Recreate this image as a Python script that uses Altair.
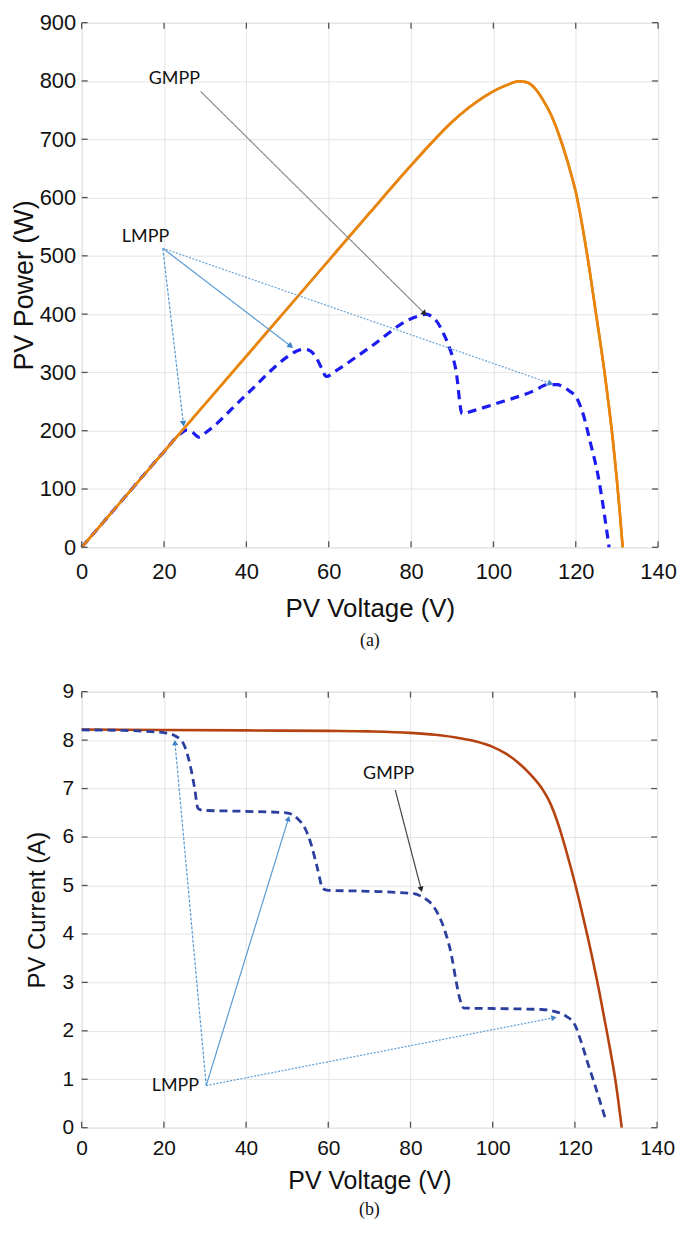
import math
import altair as alt
import pandas as pd

# ---------------- data: panel (a) P-V ----------------
a_full_v = [0, 20, 40, 60, 70, 80, 85, 90, 94, 98, 101, 104, 106, 108, 110, 112, 114, 116, 118, 119, 120, 121, 122, 123, 124, 125, 126, 127, 128, 129, 130, 130.7, 131.4]
a_full_p = [0, 164, 328, 492, 574, 655, 694, 730, 754, 774, 786, 795, 799.5, 798, 788, 768, 742, 706, 662, 637, 610, 575, 535, 492, 445, 397, 350, 300, 245, 185, 115, 60, 0]

a_shade_v = [0, 10, 20, 24, 25.5, 26.8, 28.5, 30, 40, 50, 52, 54, 55.5, 57, 58.3, 59.4, 62, 70, 80, 82, 83.7, 85, 86.2, 87.8, 89.3, 90.9, 92.4, 95, 100, 110, 113.1, 115.5, 117, 118.3, 120.4, 121.9, 123.5, 125.5, 127.6, 128.1]
a_shade_p = [0, 82, 164, 195, 201, 198, 189, 196, 262, 327, 336, 340, 337, 325, 307, 293, 304, 343, 392, 397, 400, 396, 388, 368, 343, 304, 229, 234, 245, 269, 279, 279, 275, 269, 254, 226, 181, 120, 25, 0]

# ---------------- data: panel (b) I-V ----------------
b_full_v = [0, 20, 40, 60, 70, 80, 86, 92, 96, 100, 103, 106, 109, 112, 114, 116, 118, 120, 122, 124, 126, 128, 130, 131.4]
b_full_i = [8.22, 8.21, 8.2, 8.19, 8.18, 8.15, 8.11, 8.04, 7.97, 7.86, 7.73, 7.55, 7.31, 7.0, 6.7, 6.25, 5.68, 5.05, 4.35, 3.6, 2.78, 1.88, 0.9, 0]

b_shade_v = [0, 10, 20.3, 22.9, 24.9, 26.4, 27.5, 28.3, 29.5, 40, 49.8, 52.4, 54.4, 55.9, 57.4, 58.7, 60, 70, 80.8, 82.9, 85.4, 86.9, 88.5, 90, 91, 92, 93, 100, 111.8, 115.9, 117.9, 120, 121.5, 123, 125.1, 126.6, 127.6]
b_shade_i = [8.21, 8.2, 8.15, 8.08, 7.9, 7.48, 7.0, 6.59, 6.55, 6.53, 6.5, 6.39, 6.17, 5.83, 5.34, 4.93, 4.9, 4.88, 4.83, 4.76, 4.59, 4.38, 4.03, 3.55, 3.07, 2.66, 2.47, 2.46, 2.44, 2.38, 2.3, 2.12, 1.78, 1.37, 0.82, 0.41, 0.14]

# ---------------- ticks ----------------
x_ticks = [0, 20, 40, 60, 80, 100, 120, 140]
a_y_ticks = [0, 100, 200, 300, 400, 500, 600, 700, 800, 900]
b_y_ticks = [0, 1, 2, 3, 4, 5, 6, 7, 8, 9]

# ---------------- annotations ----------------
a_label_text = ["GMPP", "LMPP"]
a_label_v = [22.5, 15.5]
a_label_p = [804, 533]
a_arrow_kind = ["G", "L1", "L2", "L3"]
a_arrow_v0 = [28.9, 19.7, 19.7, 19.7]
a_arrow_p0 = [782, 513, 513, 513]
a_arrow_v1 = [83.3, 24.7, 50.8, 113.9]
a_arrow_p1 = [401, 212, 345, 281]

b_label_text = ["GMPP", "LMPP"]
b_label_v = [74.7, 22.8]
b_label_i = [7.31, 0.85]
b_arrow_kind = ["G", "L1", "L2", "L3"]
b_arrow_v0 = [76.3, 30.3, 30.3, 30.3]
b_arrow_i0 = [6.97, 0.87, 0.87, 0.87]
b_arrow_v1 = [82.6, 22.7, 50.3, 114.9]
b_arrow_i1 = [4.92, 7.95, 6.38, 2.27]

# ---------------- style ----------------
W_A, H_A = 579, 527
W_B, H_B = 578, 438
SANS = "Liberation Sans, Arial"
GRID = "#e4e4e4"
TICKC = "#555555"
TXT = "#111111"
TICK_LEN = 6


def head_angles(v0, y0, v1, y1, sx, sy):
    out = []
    for a, b, c, d in zip(v0, y0, v1, y1):
        dx = (c - a) * sx
        dy = -(d - b) * sy
        out.append(math.degrees(math.atan2(dx, -dy)) % 360)
    return out


def build_panel(full_v, full_y, shade_v, shade_y, yname, ydom, yticks, W, H,
                lab_t, lab_v, lab_y, ak, av0, ay0, av1, ay1,
                full_color, shade_color, shade_width, shade_dash,
                arrow_colors, head_colors, arrow_dashes, head_size,
                xlab_size, xtitle_size, ylab_size, ytitle, ytitle_size,
                ylab_pad, ytitle_pad, xlab_pad, xtitle_pad, caption, cap_offset,
                text_size, full_on_top):
    xs = alt.Scale(domain=[0, 140], nice=False, zero=False)
    ys = alt.Scale(domain=ydom, nice=False, zero=False)

    df_full = pd.DataFrame({"v": full_v, yname: full_y})
    df_shade = pd.DataFrame({"v": shade_v, yname: shade_y})
    df_lab = pd.DataFrame({"t": lab_t, "v": lab_v, yname: lab_y})
    df_xt = pd.DataFrame({"v": x_ticks})
    df_yt = pd.DataFrame({yname: yticks})
    sx = W / 140.0
    sy = H / float(ydom[1] - ydom[0])
    df_arr = pd.DataFrame({"k": ak, "v0": av0, "y0": ay0, "v1": av1, "y1": ay1,
                           "ang": head_angles(av0, ay0, av1, ay1, sx, sy)})

    main_x = alt.Axis(values=x_ticks, orient="bottom", title="PV Voltage (V)", grid=True,
                      gridColor=GRID, gridWidth=1, ticks=False, domain=False,
                      labelFont=SANS, labelFontSize=xlab_size, labelColor=TXT,
                      labelPadding=xlab_pad, labelFlush=False, labelOverlap=False,
                      titleFont=SANS, titleFontSize=xtitle_size, titleFontWeight="normal",
                      titleColor=TXT, titlePadding=xtitle_pad, format="d")
    main_y = alt.Axis(values=yticks, orient="left", title=ytitle, grid=True, gridColor=GRID,
                      gridWidth=1, ticks=False, domain=False, labelFont=SANS,
                      labelFontSize=ylab_size, labelColor=TXT, labelPadding=ylab_pad,
                      labelFlush=False, labelOverlap=False, titleFont=SANS,
                      titleFontSize=ytitle_size, titleFontWeight="normal", titleColor=TXT,
                      titlePadding=ytitle_pad, format="d")

    line_style = dict(color=full_color, strokeWidth=2.6, interpolate="monotone")
    full = alt.Chart(df_full).mark_line(**line_style).encode(
        x=alt.X("v:Q", scale=xs, axis=main_x),
        y=alt.Y(f"{yname}:Q", scale=ys, axis=main_y),
    )
    full_over = alt.Chart(df_full).mark_line(**line_style).encode(
        x=alt.X("v:Q", scale=xs, axis=None),
        y=alt.Y(f"{yname}:Q", scale=ys, axis=None),
    )
    shade = alt.Chart(df_shade).mark_line(color=shade_color, strokeWidth=shade_width,
                                          strokeDash=shade_dash,
                                          interpolate="monotone").encode(
        x=alt.X("v:Q", scale=xs, axis=None),
        y=alt.Y(f"{yname}:Q", scale=ys, axis=None),
    )
    arrows = alt.Chart(df_arr).mark_rule(strokeWidth=1.2).encode(
        x=alt.X("v0:Q", scale=xs, axis=None),
        y=alt.Y("y0:Q", scale=ys, axis=None),
        x2="v1:Q",
        y2="y1:Q",
        color=alt.Color("k:N", scale=alt.Scale(domain=ak, range=arrow_colors), legend=None),
        strokeDash=alt.StrokeDash("k:N", scale=alt.Scale(domain=ak, range=arrow_dashes),
                                  legend=None),
    )
    heads = alt.Chart(df_arr).mark_point(shape="triangle-up", filled=True, size=head_size,
                                         opacity=1).encode(
        x=alt.X("v1:Q", scale=xs, axis=None),
        y=alt.Y("y1:Q", scale=ys, axis=None),
        angle=alt.Angle("ang:Q", scale=None),
        color=alt.Color("k:N", scale=alt.Scale(domain=ak, range=head_colors), legend=None),
    )
    texts = alt.Chart(df_lab).mark_text(font="Lato", fontSize=text_size, color=TXT,
                                        baseline="middle", align="center").encode(
        x=alt.X("v:Q", scale=xs, axis=None),
        y=alt.Y(f"{yname}:Q", scale=ys, axis=None),
        text="t:N",
    )
    # inner (MATLAB-style) tick marks on all four sides of the frame
    tick_style = dict(color=TICKC, strokeWidth=1.3)
    t_top = alt.Chart(df_xt).mark_rule(**tick_style).encode(
        x=alt.X("v:Q", scale=xs, axis=None), y=alt.value(0), y2=alt.value(TICK_LEN))
    t_bot = alt.Chart(df_xt).mark_rule(**tick_style).encode(
        x=alt.X("v:Q", scale=xs, axis=None), y=alt.value(H - TICK_LEN), y2=alt.value(H))
    t_left = alt.Chart(df_yt).mark_rule(**tick_style).encode(
        y=alt.Y(f"{yname}:Q", scale=ys, axis=None), x=alt.value(0), x2=alt.value(TICK_LEN))
    t_right = alt.Chart(df_yt).mark_rule(**tick_style).encode(
        y=alt.Y(f"{yname}:Q", scale=ys, axis=None), x=alt.value(W - TICK_LEN), x2=alt.value(W))

    layers = [full, shade]
    if full_on_top:
        layers.append(full_over)
    layers += [arrows, heads, texts, t_top, t_bot, t_left, t_right]
    return alt.layer(*layers).resolve_scale(color="independent").resolve_axis(
        x="independent", y="independent").properties(
        width=W, height=H,
        title=alt.TitleParams(caption, orient="bottom", font="Liberation Serif",
                              fontSize=18, fontWeight="normal", color=TXT,
                              offset=cap_offset, anchor="middle"))


panel_a = build_panel(
    a_full_v, a_full_p, a_shade_v, a_shade_p, "p", [0, 900], a_y_ticks, W_A, H_A,
    a_label_text, a_label_v, a_label_p, a_arrow_kind, a_arrow_v0, a_arrow_p0,
    a_arrow_v1, a_arrow_p1,
    full_color="#e8850e", shade_color="#1c1cf0", shade_width=3.2, shade_dash=[9, 6],
    arrow_colors=["#8c8c8c", "#5a9bd4", "#5a9bd4", "#6aa3d6"],
    head_colors=["#2b2b2b", "#3d85c6", "#3d85c6", "#3d85c6"],
    arrow_dashes=[[1, 0], [3, 1.5], [1, 0], [2, 1.5]], head_size=45,
    xlab_size=22, xtitle_size=26, ylab_size=22, ytitle="PV Power (W)", ytitle_size=27,
    ylab_pad=6, ytitle_pad=1, xlab_pad=14, xtitle_pad=14, caption="(a)", cap_offset=10,
    text_size=18, full_on_top=True)

panel_b = build_panel(
    b_full_v, b_full_i, b_shade_v, b_shade_i, "i", [0, 9], b_y_ticks, W_B, H_B,
    b_label_text, b_label_v, b_label_i, b_arrow_kind, b_arrow_v0, b_arrow_i0,
    b_arrow_v1, b_arrow_i1,
    full_color="#b5420f", shade_color="#2b3f9e", shade_width=2.8, shade_dash=[8, 5],
    arrow_colors=["#444444", "#5a9bd4", "#5a9bd4", "#5a9bd4"],
    head_colors=["#222222", "#3d85c6", "#3d85c6", "#3d85c6"],
    arrow_dashes=[[1, 0], [1, 0], [1, 0], [1, 0]], head_size=38,
    xlab_size=21, xtitle_size=25, ylab_size=21, ytitle="PV Current (A)", ytitle_size=24,
    ylab_pad=8, ytitle_pad=13, xlab_pad=10, xtitle_pad=10, caption="(b)", cap_offset=8,
    text_size=18, full_on_top=False)

chart = alt.vconcat(panel_a, panel_b, spacing=29).properties(
    padding={"left": 1, "top": 0, "right": 0, "bottom": 0}
).configure_view(stroke="#7a7a7a", strokeWidth=1.6).configure(background="white")

chart.save("out.html", embed_options={"renderer": "svg", "actions": False})
